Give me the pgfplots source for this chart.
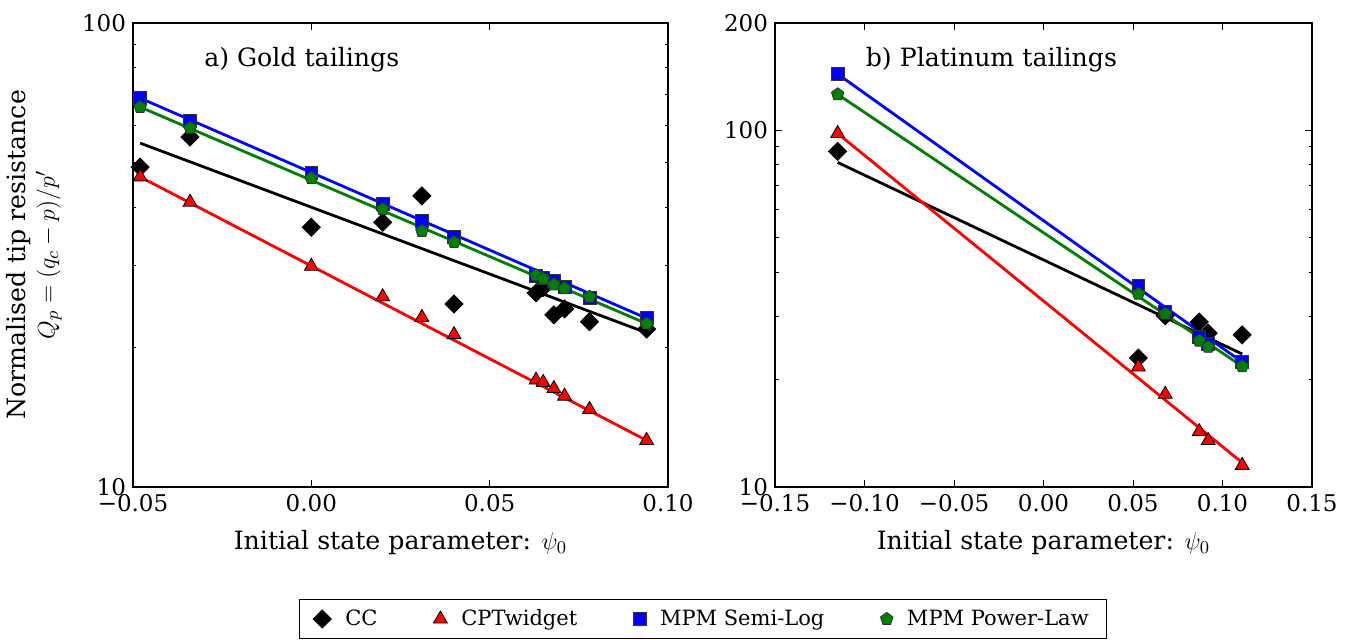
\documentclass[border=0pt]{standalone}
\usepackage[no-math]{fontspec}
\setmainfont{DejaVu Serif}
\usepackage{pgfplots}
\pgfplotsset{compat=1.18}

\definecolor{mplblue}{RGB}{0,0,255}
\definecolor{mplgreen}{RGB}{0,128,0}
\definecolor{mplred}{RGB}{255,0,0}

\newcommand{\tickfont}{\fontsize{11.5}{13}\selectfont}
\newcommand{\labfont}{\fontsize{12.6}{14.5}\selectfont}

\pgfplotsset{
  mypanel/.style={
    height=232pt, scale only axis,
    tick align=inside,
    major tick length=3.5pt, minor tick length=1.75pt,
    every tick/.append style={black, line width=0.5pt},
    axis line style={line width=1pt},
    tick label style={font=\tickfont},
    xlabel={Initial state parameter: $\psi_0$},
    every axis x label/.style={at={(axis description cs:0.5,0)}, anchor=center, yshift=-28pt, font=\labfont},
    minor ytick={20,30,40,50,60,70,80,90},
  },
  fitline/.style={line width=1.4pt, forget plot},
  ccmk/.style={only marks, mark=square*, mark size=3.2pt,
    mark options={rotate=45, fill=black, draw=black, line width=0.4pt}},
  cptmk/.style={only marks, mark=triangle*, mark size=4pt,
    mark options={fill=mplred, draw=black, line width=0.4pt}},
  semimk/.style={only marks, mark=square*, mark size=3.2pt,
    mark options={fill=mplblue, draw=black!80, line width=0.4pt}},
  powermk/.style={only marks, mark=pentagon*, mark size=3.3pt,
    mark options={fill=mplgreen, draw=black!80, line width=0.4pt}},
}

\begin{document}
\begin{tikzpicture}
\path[use as bounding box] (-66.5pt,-76pt) rectangle (610.5pt,243.5pt);

% a) Gold tailings
\begin{axis}[mypanel,
  ymode=log,
  width=267.5pt,
  xmin=-0.05, xmax=0.10, ymin=10, ymax=100,
  xtick={-0.05,0,0.05,0.10},
  xticklabels={−0.05,0.00,0.05,0.10},
  ytick={10,100}, yticklabels={10,100},
  ylabel={Normalised tip resistance\\$Q_p=(q_c-p)/p'$},
  every axis y label/.style={at={(axis description cs:-0.185,0.5)}, anchor=center, rotate=90, align=center, font=\labfont},
  legend columns=4,
  legend style={at={(1.0654,-0.2845)}, anchor=center, draw=black, line width=0.5pt,
    font=\fontsize{10.5}{12}\selectfont, inner xsep=7pt, inner ysep=3pt,
    /tikz/every odd column/.append style={column sep=5pt},
    /tikz/every even column/.append style={column sep=26pt}},
]
\addplot[fitline, black] coordinates {(-0.048,55.1) (0.094,21.5)};
\addplot[fitline, mplred] coordinates {(-0.048,46.6) (0.094,12.6)};
\addplot[fitline, mplblue] coordinates {(-0.048,68.9) (0.094,23.1)};
\addplot[fitline, mplgreen] coordinates {(-0.048,65.9) (0.094,22.5)};

\addplot[ccmk] coordinates {
  (-0.048,48.9) (-0.034,56.8) (0.000,36.3) (0.020,37.2) (0.031,42.4) (0.040,24.8)
  (0.063,26.2) (0.065,26.9) (0.068,23.5) (0.071,24.2) (0.078,22.7) (0.094,21.9)};
\addlegendentry{CC}
\addplot[cptmk] coordinates {
  (-0.048,46.6) (-0.034,41.1) (0.000,29.9) (0.020,25.7) (0.031,23.2) (0.040,21.3)
  (0.063,17.0) (0.065,16.8) (0.068,16.3) (0.071,15.7) (0.078,14.7) (0.094,12.6)};
\addlegendentry{CPTwidget}
\addplot[semimk] coordinates {
  (-0.048,68.9) (-0.034,61.5) (0.000,47.5) (0.020,40.7) (0.031,37.5) (0.040,34.6)
  (0.063,28.5) (0.065,28.2) (0.068,27.8) (0.071,27.0) (0.078,25.6) (0.094,23.1)};
\addlegendentry{MPM Semi-Log}
\addplot[powermk] coordinates {
  (-0.048,65.9) (-0.034,59.4) (0.000,46.3) (0.020,39.7) (0.031,35.6) (0.040,33.7)
  (0.063,28.6) (0.065,28.1) (0.068,27.3) (0.071,26.8) (0.078,25.7) (0.094,22.5)};
\addlegendentry{MPM Power-Law}

\node[anchor=west, font=\labfont] at (rel axis cs:0.12,0.92) {a) Gold tailings};
\end{axis}

% b) Platinum tailings
\begin{axis}[mypanel,
  ymode=log,
  at={(321pt,0pt)},
  width=268.5pt,
  xmin=-0.15, xmax=0.15, ymin=10, ymax=200,
  xtick={-0.15,-0.10,-0.05,0,0.05,0.10,0.15},
  xticklabels={−0.15,−0.10,−0.05,0.00,0.05,0.10,0.15},
  ytick={10,100,200}, yticklabels={10,100,200},
]
\addplot[fitline, black] coordinates {(-0.115,81.3) (0.111,23.6)};
\addplot[fitline, mplred] coordinates {(-0.115,98.0) (0.111,11.7)};
\addplot[fitline, mplblue] coordinates {(-0.115,143.8) (0.111,22.4)};
\addplot[fitline, mplgreen] coordinates {(-0.115,126.2) (0.111,21.8)};

\addplot[ccmk] coordinates {
  (-0.115,87.3) (0.053,23.0) (0.068,30.2) (0.087,29.0) (0.092,27.0) (0.111,26.7)};
\addplot[cptmk] coordinates {
  (-0.115,98.0) (0.053,21.7) (0.068,18.2) (0.087,14.3) (0.092,13.5) (0.111,11.5)};
\addplot[semimk] coordinates {
  (-0.115,143.8) (0.053,36.6) (0.068,31.0) (0.087,26.3) (0.092,25.2) (0.111,22.4)};
\addplot[powermk] coordinates {
  (-0.115,126.2) (0.053,34.8) (0.068,30.6) (0.087,25.7) (0.092,24.7) (0.111,21.8)};

\node[anchor=west, font=\labfont] at (rel axis cs:0.156,0.92) {b) Platinum tailings};
\end{axis}
\end{tikzpicture}
\end{document}
